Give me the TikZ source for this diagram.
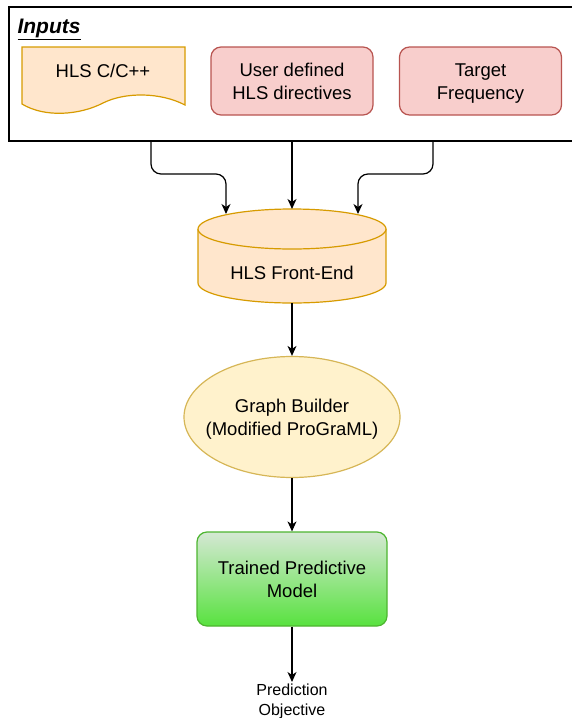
\documentclass[tikz,border=0pt]{standalone}
\usepackage{fontspec}
\setmainfont{Liberation Sans}
\usetikzlibrary{shapes.geometric,arrows.meta}

\definecolor{docfill}{HTML}{FFE6CC}
\definecolor{docline}{HTML}{D79B00}
\definecolor{redfill}{HTML}{F8CECC}
\definecolor{redline}{HTML}{B85450}
\definecolor{yelfill}{HTML}{FFF2CC}
\definecolor{yelline}{HTML}{D6B656}
\definecolor{grntop}{HTML}{D5E8D4}
\definecolor{grnbot}{HTML}{58E23F}
\definecolor{grnline}{HTML}{4DB530}

\tikzset{
	arr/.style={line width=1.2pt,-{Stealth[length=10pt,width=9pt,inset=3pt]}},
	txt/.style={align=center,font=\fontsize{18.5}{23}\selectfont},
	inbox/.style={rectangle,rounded corners=10pt,draw=redline,fill=redfill,line width=1.2pt,
		minimum width=162pt,minimum height=68pt,txt},
}

\begin{document}
\begin{tikzpicture}[x=1pt,y=-1pt]
		\useasboundingbox (0,0) rectangle (572,718);
		
		% Inputs
		\draw[line width=1.2pt] (9,7) rectangle (580,141);
		\node[inner sep=0] (inputs) at (292,141) {};
		\node[anchor=west,font=\fontsize{21}{24}\bfseries\itshape\selectfont] (title) at (14,29) {\underline{Inputs}};
		
		% Document
		\filldraw[fill=docfill,draw=docline,line width=1.2pt] (22,47) -- (185,47) -- (185,105)
			.. controls (160,92) and (125,92) .. (103,103)
			.. controls (80,115) and (45,118) .. (22,104) -- cycle;
		\node[txt] (code) at (103,71) {HLS C/C++};
		\node[inbox] (pragma) at (292,81) {};
		\node[txt] at ([yshift=-2.5pt]pragma.center) {\strut User defined\\\strut HLS directives};
		\node[inbox] (freq) at (480.5,81) {};
		\node[txt] at ([yshift=-2.5pt]freq.center) {\strut Target\\\strut Frequency};
		
		% Front-end
		\fill[docfill] (198,229) rectangle (386,283);
		\fill[docfill] (292,283) ellipse [x radius=94pt,y radius=20pt];
		\draw[docline,line width=1.2pt] (198,229) -- (198,283) arc[start angle=180,end angle=360,x radius=94pt,y radius=20pt] -- (386,229);
		\draw[docline,fill=docfill,line width=1.2pt] (292,229) ellipse [x radius=94pt,y radius=20pt];
		\coordinate (feL) at (226,214);
		\coordinate (feM) at (292,209);
		\coordinate (feR) at (358,214);
		\node[txt] (fe) at (292,273) {HLS Front-End};
		\coordinate (feB) at (292,303);
		
		% Graph builder
		\node[ellipse,draw=yelline,fill=yelfill,line width=1.2pt,inner sep=0,minimum width=216pt,minimum height=121pt] (gb) at (292,417) {};
		\node[txt] (gbtext) at ([yshift=-2.5pt]gb.center) {\strut Graph Builder\\\strut (Modified ProGraML)};
		
		% Model
		\node[rectangle,rounded corners=10pt,draw=grnline,top color=grntop,bottom color=grnbot,line width=1.2pt,
			minimum width=190pt,minimum height=94pt] (model) at (292,579) {};
		\node[txt] (mtext) at ([yshift=-2.5pt]model.center) {\strut Trained Predictive\\\strut Model};
		\node[align=center,inner sep=0pt,anchor=north,font=\fontsize{16}{20}\selectfont] (obj) at (292,681) {\strut Prediction\\\strut Objective};
		
		% Arrows
		\draw[arr,rounded corners=10pt] ([xshift=-141pt]inputs.center) |- (feL |- 0,174) -- (feL);
		\draw[arr] (inputs.center) -- (feM);
		\draw[arr,rounded corners=10pt] ([xshift=141pt]inputs.center) |- (feR |- 0,174) -- (feR);
		\draw[arr] (feB) -- (gb.north);
		\draw[arr] (gb.south) -- (model.north);
		\draw[arr] (model.south) -- ([yshift=-1pt]obj.north);
		
\end{tikzpicture}
\end{document}
